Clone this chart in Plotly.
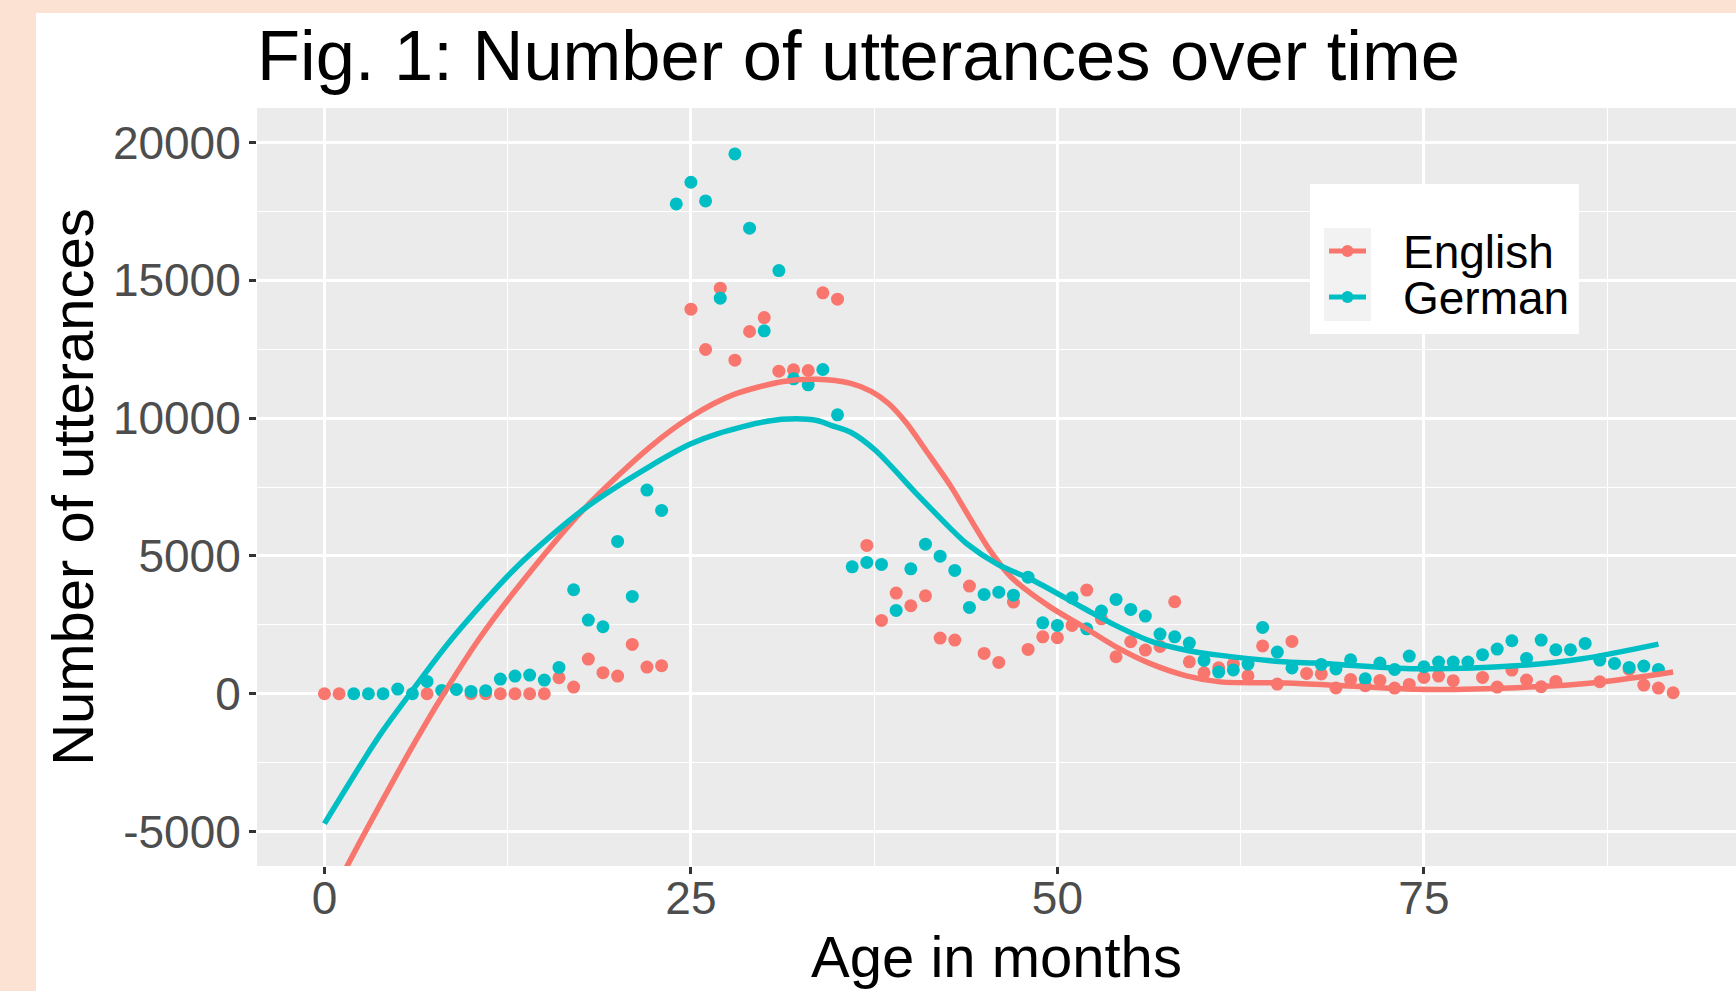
import plotly.graph_objects as go

# ---------------- data ----------------
english_age = [0, 1, 7, 10, 11, 12, 13, 14, 15, 16, 17, 18, 19, 20, 21, 22, 23,
               25, 26, 27, 28, 29, 30, 31, 32, 33, 34, 35,
               37, 38, 39, 40, 41, 42, 43, 44, 45, 46, 47, 48, 49, 50, 51, 52, 53,
               54, 55, 56, 57, 58, 59, 60, 61, 62, 63, 64, 65, 66, 67, 68, 69, 70,
               71, 72, 73, 74, 75, 76, 77, 79, 80, 81, 82, 83, 84, 87, 89, 90, 91, 92]
english_utt = [0, 0, 0, 0, 0, 0, 0, 0, 0, 580, 240, 1257, 762, 641, 1789, 967, 1016,
               13951, 12488, 14712, 12101, 13141, 13648, 11702, 11750, 11726, 14543, 14313,
               5379, 2659, 3650, 3191, 3553, 2018, 1945, 3904, 1462, 1135, 3324, 1607, 2066, 2030, 2477, 3759, 2719,
               1341, 1885, 1583, 1716, 3336, 1159, 760, 940, 1075, 647, 1735, 351, 1898, 738, 719, 212, 520,
               290, 484, 206, 339, 592, 641, 472, 592, 242, 858, 496, 254, 447, 435, 883, 314, 206, 36]

german_age = [2, 3, 4, 5, 6, 7, 8, 9, 10, 11, 12, 13, 14, 15, 16, 17, 18, 19, 20, 21, 22, 23,
              24, 25, 26, 27, 28, 29, 30, 31, 32, 33, 34, 35, 36, 37, 38, 39, 40, 41, 42, 43,
              44, 45, 46, 47, 48, 49, 50, 51, 52, 53, 54, 55, 56, 57, 58, 59, 60, 61, 62, 63,
              64, 65, 66, 68, 69, 70, 71, 72, 73, 74, 75, 76, 77, 78, 79, 80, 81, 82, 83, 84,
              85, 86, 87, 88, 89, 90, 91]
german_utt = [0, 0, 0, 170, 0, 447, 120, 157, 85, 110, 532, 641, 677, 496, 955, 3772, 2672, 2430, 5525, 3530, 7387, 6650,
              17771, 18557, 17880, 14350, 19585, 16889, 13165, 15353, 11424, 11206, 11762, 10118, 4605, 4762, 4690, 3021, 4533, 5427, 4992, 4472,
              3130, 3602, 3686, 3577, 4230, 2574, 2477, 3481, 2356, 2997, 3420, 3058, 2816, 2163, 2066, 1836, 1208, 785, 864, 1076,
              2406, 1511, 937, 1064, 900, 1233, 544, 1112, 883, 1366, 979, 1149, 1149, 1149, 1415, 1620, 1922, 1282, 1946, 1596,
              1596, 1826, 1221, 1100, 955, 1003, 883]

# smoothed (loess) curves
english_fit_age = [0, 1.5, 4.7, 6.4, 8.0, 10.5, 13.1, 17.7, 22.2, 25.0, 27.9, 31.3, 33.6, 35.9, 37.3, 38.5,
                   39.7, 41.0, 42.7, 44.0, 45.4, 46.8, 49.5, 51.8, 54.0, 56.3, 58.8, 61.1, 65.6, 69.3,
                   74.5, 81.3, 87.0, 92.0]
english_fit_utt = [-7900, -6300, -3150, -1550, -120, 1950, 3800, 6700, 8950, 10050, 10850, 11330, 11410, 11260, 10970, 10520,
                   9820, 8850, 7550, 6400, 5200, 4250, 3150, 2420, 1700, 1100, 650, 430, 390, 300,
                   160, 220, 420, 790]

german_fit_age = [0, 2.8, 4.0, 5.5, 8.6, 13.1, 17.7, 22.2, 25.0, 26.8, 30.2, 32.2, 33.6, 34.6, 35.9, 37.6,
                  40.4, 42.7, 43.8, 45.9, 48.4, 51.8, 54.0, 56.4, 58.8, 61.0, 65.7, 67.6, 74.5, 81.3, 85.8, 91.0]
german_fit_utt = [-4714, -2300, -1330, -240, 1933, 4591, 6700, 8250, 9066, 9428, 9886, 9972, 9911, 9730, 9487, 8823,
                  7252, 6000, 5450, 4700, 4100, 3100, 2470, 1900, 1580, 1400, 1148, 1111, 906, 1014, 1268, 1800]

x_ticks = [0, 25, 50, 75]
x_tick_labels = ["0", "25", "50", "75"]
y_ticks = [-5000, 0, 5000, 10000, 15000, 20000]
y_tick_labels = ["-5000", "0", "5000", "10000", "15000", "20000"]

# ---------------- styling ----------------
RED = "#F8766D"
TEAL = "#00BFC4"
PEACH = "#FBE2D2"
FONT = "Liberation Sans, Arial, Helvetica, sans-serif"

W, H = 1736, 991
L, R, T, B = 257, 0, 108, 125
PW, PH = W - L - R, H - T - B


def fx(px):
    return (px - L) / PW


def fy(py):
    return (H - B - py) / PH


fig = go.Figure()

fig.add_trace(go.Scatter(x=english_age, y=english_utt, mode="markers", name="English",
                         marker=dict(color=RED, size=13, line=dict(width=0)), showlegend=False))
fig.add_trace(go.Scatter(x=german_age, y=german_utt, mode="markers", name="German",
                         marker=dict(color=TEAL, size=13, line=dict(width=0)), showlegend=False))
fig.add_trace(go.Scatter(x=english_fit_age, y=english_fit_utt, mode="lines", name="English",
                         line=dict(color=RED, width=5.5, shape="spline", smoothing=0.8), showlegend=False))
fig.add_trace(go.Scatter(x=german_fit_age, y=german_fit_utt, mode="lines", name="German",
                         line=dict(color=TEAL, width=5.5, shape="spline", smoothing=0.8), showlegend=False))

shapes = [
    # peach frame around the white card
    dict(type="rect", xref="paper", yref="paper", x0=fx(0), x1=fx(36), y0=fy(H + 5), y1=fy(-5),
         fillcolor=PEACH, line=dict(width=0), layer="below"),
    dict(type="rect", xref="paper", yref="paper", x0=fx(0), x1=fx(W + 5), y0=fy(13), y1=fy(-5),
         fillcolor=PEACH, line=dict(width=0), layer="below"),
    # legend box
    dict(type="rect", xref="paper", yref="paper", x0=fx(1310), x1=fx(1579), y0=fy(334), y1=fy(184),
         fillcolor="white", line=dict(width=0), layer="above"),
    dict(type="rect", xref="paper", yref="paper", x0=fx(1324), x1=fx(1371), y0=fy(321), y1=fy(228),
         fillcolor="#F2F2F2", line=dict(width=0), layer="above"),
]
annotations = []
for label, color, cy in [("English", RED, 251), ("German", TEAL, 297)]:
    shapes.append(dict(type="line", xref="paper", yref="paper", x0=fx(1329), x1=fx(1366), y0=fy(cy), y1=fy(cy),
                       line=dict(color=color, width=5), layer="above"))
    shapes.append(dict(type="circle", xref="paper", yref="paper", x0=fx(1341.5), x1=fx(1353.5),
                       y0=fy(cy + 6), y1=fy(cy - 6), fillcolor=color, line=dict(width=0), layer="above"))
    annotations.append(dict(text=label, xref="paper", yref="paper", x=fx(1401), y=fy(cy + 1),
                            xanchor="left", yanchor="middle", showarrow=False,
                            font=dict(family=FONT, size=46, color="black")))

fig.update_layout(
    width=W, height=H,
    margin=dict(l=L, r=R, t=T, b=B, autoexpand=False),
    paper_bgcolor="white",
    plot_bgcolor="#EBEBEB",
    font=dict(family=FONT, color="black"),
    title=dict(text="Fig. 1: Number of utterances over time", x=0, xref="paper", xanchor="left",
               y=1 - 55 / H, yref="container", yanchor="middle",
               font=dict(family=FONT, size=70.5, color="black"), pad=dict(l=0, r=0, t=0, b=0)),
    showlegend=False,
    shapes=shapes,
    annotations=annotations,
)

fig.update_xaxes(
    range=[-4.6, 96.29], tickvals=x_ticks, ticktext=x_tick_labels,
    showgrid=True, gridcolor="white", gridwidth=2.7, zeroline=False,
    minor=dict(dtick=12.5, tick0=0, showgrid=True, gridcolor="white", gridwidth=1.3),
    ticks="outside", ticklen=7, tickwidth=2.5, tickcolor="#333333", ticklabelstandoff=-15,
    tickfont=dict(family=FONT, size=46, color="#4D4D4D"),
    title=dict(text="Age in months", font=dict(family=FONT, size=58, color="black"), standoff=6),
    automargin=False, showline=False,
)
fig.update_yaxes(
    range=[-6250, 21250], tickvals=y_ticks, ticktext=y_tick_labels,
    showgrid=True, gridcolor="white", gridwidth=2.7, zeroline=False,
    minor=dict(dtick=2500, tick0=0, showgrid=True, gridcolor="white", gridwidth=1.3),
    ticks="outside", ticklen=7, tickwidth=2.5, tickcolor="#333333", ticklabelstandoff=-1,
    tickfont=dict(family=FONT, size=46, color="#4D4D4D"),
    title=dict(text="Number of utterances", font=dict(family=FONT, size=58, color="black"), standoff=0),
    automargin=False, showline=False,
)

fig.write_html("out.html", config={"displayModeBar": False},
               post_script="document.body.style.margin='0px';")
